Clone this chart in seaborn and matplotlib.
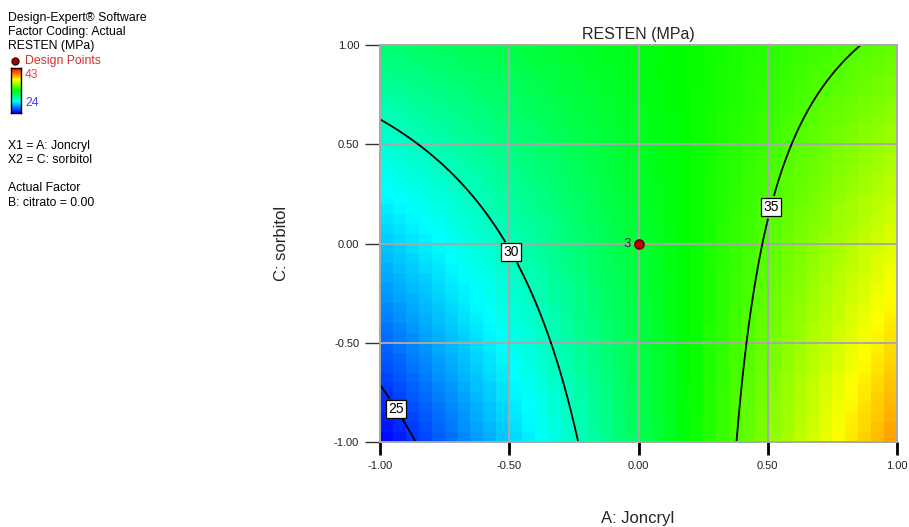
import numpy as np
import matplotlib
matplotlib.use("Agg")
import matplotlib.pyplot as plt
from matplotlib.colors import LinearSegmentedColormap
import seaborn as sns

# Quadratic response model for RESTEN (MPa) in coded units, B: citrato held at 0.00
# terms: intercept, A, C, AC, A^2, C^2
model_terms = ["Intercept", "A", "C", "AC", "A2", "C2"]
model_coefs = [32.54, 5.05, 0.65, -3.09, 0.17, 0.0]

contour_levels = [25, 30, 35]
label_spots = [(-0.91, -0.81), (-0.50, -0.05), (0.49, 0.19)]

design_A = [0.0]
design_C = [0.0]
design_reps = ["3"]

ticks = [-1.0, -0.5, 0.0, 0.5, 1.0]
tick_labels = ["-1.00", "-0.50", "0.00", "0.50", "1.00"]
color_low, color_high = 24, 43

sns.set_style("white")
plt.rcParams["font.family"] = ["Liberation Sans", "DejaVu Sans"]


def resten(a, c):
    b0, bA, bC, bAC, bAA, bCC = model_coefs
    return b0 + bA * a + bC * c + bAC * a * c + bAA * a * a + bCC * c * c


cmap = LinearSegmentedColormap.from_list(
    "de", ["#0000ff", "#00ffff", "#00ff00", "#ffff00", "#ff0000"])

fig = plt.figure(figsize=(9.09, 5.27), dpi=100)
ax = fig.add_axes([380 / 909, 1 - 442 / 527, 517 / 909, 397 / 527])

# blocky shaded surface on a 40 x 40 cell grid
n = 40
edges = np.linspace(-1, 1, n + 1)
mids = (edges[:-1] + edges[1:]) / 2
MA, MC = np.meshgrid(mids, mids)
ax.pcolormesh(edges, edges, resten(MA, MC), cmap=cmap,
              vmin=color_low, vmax=color_high, shading="flat", zorder=0)

# smooth contour lines
fine = np.linspace(-1, 1, 301)
FA, FC = np.meshgrid(fine, fine)
cs = ax.contour(FA, FC, resten(FA, FC), levels=contour_levels,
                colors="black", linewidths=1.3, zorder=2)
labels = ax.clabel(cs, fmt="%d", fontsize=10, inline=True, inline_spacing=4,
                   manual=label_spots)
for t in labels:
    t.set_rotation(0)
    t.set_bbox(dict(facecolor="white", edgecolor="black", linewidth=0.9,
                    boxstyle="square,pad=0.15"))
    t.set_zorder(4)

# grid lines
for v in ticks[1:-1]:
    ax.axvline(v, color="#a8a8a8", lw=1.4, zorder=1)
    ax.axhline(v, color="#a8a8a8", lw=1.4, zorder=1)

# design point
sns.scatterplot(x=design_A, y=design_C, ax=ax, s=45, color="#c00000",
                edgecolor="#5a0000", linewidth=0.9, zorder=5, legend=False)
for a, c, r in zip(design_A, design_C, design_reps):
    ax.text(a - 0.028, c, r, ha="right", va="center", fontsize=9.5,
            color="#303030", zorder=5)

ax.set_xlim(-1, 1)
ax.set_ylim(-1, 1)
ax.set_xticks(ticks)
ax.set_xticklabels(tick_labels)
ax.set_yticks(ticks)
ax.set_yticklabels(tick_labels)
ax.tick_params(axis="x", direction="out", length=9, width=2.0, color="black",
               labelsize=8, pad=5, bottom=True, labelcolor="#222222")
ax.tick_params(axis="y", direction="out", length=11, width=1.0, color="#333333",
               labelsize=8, pad=4, left=True, labelcolor="#222222")
for s in ax.spines.values():
    s.set_color("#a8a8a8")
    s.set_linewidth(1.4)

ax.set_title("RESTEN (MPa)", fontsize=11.5, pad=4)
fig.text(638 / 909, 1 - 518 / 527, "A: Joncryl", ha="center", va="center",
         fontsize=12)
fig.text(281 / 909, 1 - 243 / 527, "C: sorbitol", ha="center", va="center",
         fontsize=12, rotation=90)

# side panel
SIDE = 8.8


def side(y, s, color="black"):
    fig.text(8 / 909, 1 - y / 527, s, ha="left", va="center", fontsize=SIDE,
             color=color)


side(18, "Design-Expert® Software")
side(32, "Factor Coding: Actual")
side(46, "RESTEN (MPa)")
fig.text(25 / 909, 1 - 61 / 527, "Design Points", ha="left", va="center",
         fontsize=SIDE, color="#d03030")
fig.lines.append(plt.Line2D([15 / 909], [1 - 61 / 527], marker="o",
                            markersize=5, color="#a00000",
                            markeredgecolor="#500000",
                            transform=fig.transFigure))
cax = fig.add_axes([11 / 909, 1 - 113 / 527, 10 / 909, 45 / 527])
cax.imshow(np.linspace(1, 0, 64)[:, None], aspect="auto", cmap=cmap,
           extent=[0, 1, 0, 1])
cax.set_xticks([])
cax.set_yticks([])
for s in cax.spines.values():
    s.set_color("black")
    s.set_linewidth(1.0)
fig.text(25 / 909, 1 - 75 / 527, str(color_high), ha="left", va="center",
         fontsize=SIDE, color="#ff4040")
fig.text(25 / 909, 1 - 103 / 527, str(color_low), ha="left", va="center",
         fontsize=SIDE, color="#4040ff")
side(146, "X1 = A: Joncryl")
side(160, "X2 = C: sorbitol")
side(188, "Actual Factor")
side(203, "B: citrato = 0.00")

fig.savefig("out.png", dpi=100)
